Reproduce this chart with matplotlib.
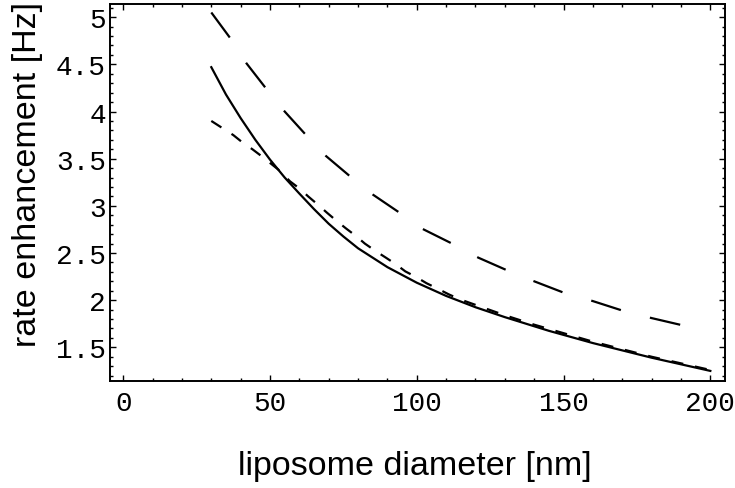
import matplotlib
matplotlib.use("Agg")
import matplotlib.pyplot as plt
from matplotlib.ticker import MultipleLocator

# values
d_solid = [30, 35, 40, 45, 50, 55, 60, 65, 70, 75, 80, 90, 100, 110, 120, 130, 145, 160, 180, 200]
r_solid = [4.47, 4.18, 3.93, 3.70, 3.49, 3.30, 3.13, 2.965, 2.81, 2.675, 2.55, 2.35, 2.185, 2.045, 1.925, 1.82,
           1.675, 1.545, 1.39, 1.25]

d_short = [30, 34, 37.5, 40.7, 44, 47.4, 50.6, 53.4, 56.8, 60.2, 63, 66.4, 69.3, 72.7, 75.9, 79.3, 82.3, 86,
           89.5, 92.9, 96.1, 99.8, 103.3, 107.2, 111, 114.6, 120, 130, 140, 150, 160, 170, 180, 190, 200]
r_short = [3.90, 3.82, 3.75, 3.67, 3.60, 3.52, 3.44, 3.37, 3.26, 3.18, 3.10, 3.01, 2.93, 2.84, 2.76, 2.68, 2.60, 2.52,
           2.45, 2.38, 2.305, 2.245, 2.18, 2.12, 2.06, 2.01, 1.95, 1.84, 1.74, 1.65, 1.56, 1.48, 1.40, 1.33, 1.26]

d_long = [30, 36.4, 42, 48.5, 55, 62, 69, 77, 85, 94, 102, 112, 121, 130.5, 140, 150, 160, 170, 180, 191]
r_long = [5.05, 4.78, 4.51, 4.25, 4.00, 3.76, 3.53, 3.32, 3.12, 2.93, 2.755, 2.60, 2.45, 2.32, 2.20, 2.08, 1.99, 1.89, 1.81, 1.73]

x_ticks = [0, 50, 100, 150, 200]
y_ticks = [1.5, 2, 2.5, 3, 3.5, 4, 4.5, 5]
y_tick_labels = ["1.5", "2", "2.5", "3", "3.5", "4", "4.5", "5"]

fig = plt.figure(figsize=(7.35, 4.89), dpi=100)
ax = fig.add_axes([0.1497, 0.2194, 0.8367, 0.7704])

lw = 1.6
ax.plot(d_solid, r_solid, color="black", lw=lw)
ax.plot(d_short, r_short, color="black", lw=lw, dashes=(5.4, 5.4))
ax.plot(d_long, r_long, color="black", lw=lw, dashes=(14.0, 13.5))

ax.set_xlim(-4.5, 205)
ax.set_ylim(1.146, 5.14)

ax.set_xticks(x_ticks)
ax.set_yticks(y_ticks)
ax.set_yticklabels(y_tick_labels)
ax.xaxis.set_minor_locator(MultipleLocator(10))
ax.yaxis.set_minor_locator(MultipleLocator(0.1))
ax.tick_params(which="both", direction="in", top=True, right=True, width=1.0)
ax.tick_params(which="major", length=4)
ax.tick_params(which="minor", length=2)
ax.tick_params(axis="x", which="major", pad=7)
ax.tick_params(axis="y", which="major", pad=3)

for lab in ax.get_xticklabels() + ax.get_yticklabels():
    lab.set_family("Liberation Mono")
    lab.set_fontsize(20)

for s in ax.spines.values():
    s.set_linewidth(1.4)

fig.text(0.565, 0.046, "liposome diameter [nm]", ha="center", va="center",
         family="Liberation Sans", fontsize=24.5)
fig.text(0.038, 0.643, "rate enhancement [Hz]", ha="center", va="center", rotation=90,
         family="Liberation Sans", fontsize=24.5)

fig.savefig("out.png", dpi=100)
